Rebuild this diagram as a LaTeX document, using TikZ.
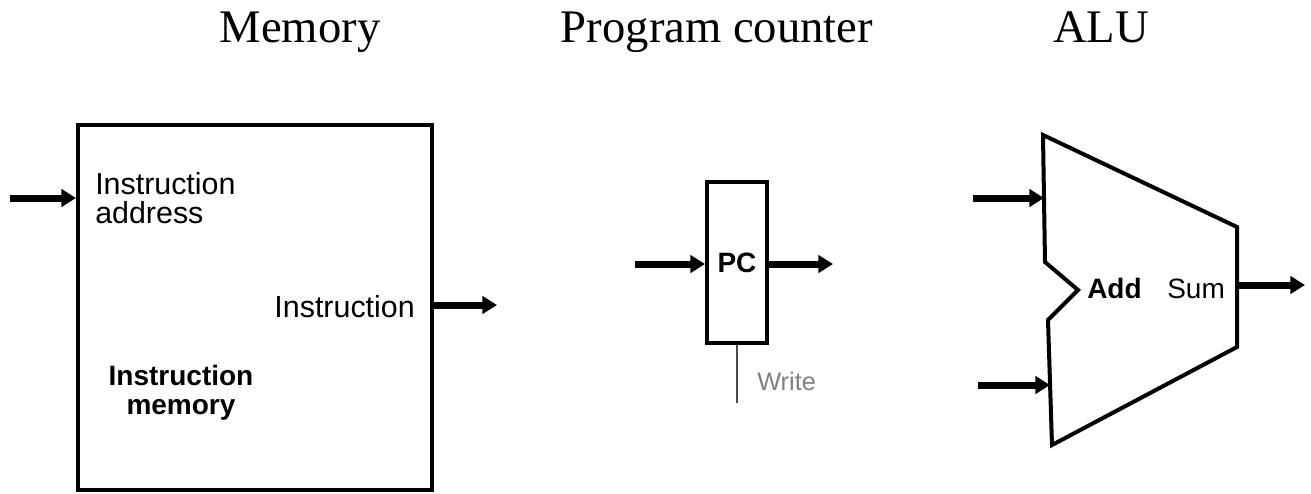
\documentclass[tikz,border=0pt]{standalone}
\usepackage{fontspec}
\setmainfont{Liberation Serif}
\setsansfont{Liberation Sans}
\usetikzlibrary{arrows.meta,positioning}
\tikzset{
  bus/.style={-{Triangle[length=11pt,width=13pt]},line width=5.25pt},
  blk/.style={draw,line width=3pt,inner sep=0pt},
  lbl/.style={font=\sffamily\fontsize{21}{21.75}\selectfont,inner sep=0pt},
  lbm/.style={font=\sffamily\fontsize{22.8}{21.75}\selectfont,inner sep=0pt},
  bl/.style={font=\sffamily\bfseries\fontsize{21}{21.75}\selectfont,inner sep=0pt},
  ttl/.style={font=\fontsize{35}{40}\selectfont,inner sep=0pt,anchor=base}
}
\begin{document}
\begin{tikzpicture}[x=0.75pt,y=-0.75pt]
\useasboundingbox (0,0) rectangle (1311,493);
% titles
\node[ttl] (tmem) at (300,42) {Memory};
\node[ttl] (tpc) at (717,42) {Program counter};
\node[ttl] (talu) at (1101,42) {ALU};
% instruction memory
\node[blk,minimum width=265.5pt,minimum height=273.75pt] (imem) at (255,307.5) {};
\node[lbm,anchor=north west,align=left] (iaddr) at (95,172) {Instruction\\address};
\node[lbm,anchor=base east] (iout) at (415,317) {Instruction};
\node[bl,anchor=north,align=center] (iname) at (181,365) {Instruction\\memory};
\coordinate (memin) at (10,198);
\coordinate (memout) at (497,305);
\draw[bus] (memin) -- (memin -| imem.west);
\draw[bus] (memout -| imem.east) -- (memout);
% program counter
\node[blk,font=\sffamily\bfseries\fontsize{21}{21.75}\selectfont,minimum width=45pt,minimum height=120.75pt] (pc) at (737,262.5) {PC};
\coordinate (pcin) at (635,264);
\coordinate (pcout) at (833,264);
\coordinate (wr) at (738,403);
\draw[bus] (pcin) -- (pcin -| pc.west);
\draw[bus] (pcout -| pc.east) -- (pcout);
\draw[gray!60!black,line width=1.5pt] (pc.south) -- (pc.south |- wr);
\node[lbl,font=\sffamily\fontsize{19}{20}\selectfont,text=gray,anchor=base west] (wrlbl) at (757,390) {Write};
% alu
\coordinate (a1) at (1043,135);
\coordinate (a2) at (1237,227);
\coordinate (a3) at (1237,347);
\coordinate (a4) at (1052,445);
\coordinate (a5) at (1048,320);
\coordinate (a6) at (1078,290);
\coordinate (a7) at (1045,262);
\draw[line width=3pt,line join=miter] (a1) -- (a2) -- (a3) -- (a4) -- (a5) -- (a6) -- (a7) -- cycle;
\node[bl,anchor=base west] (add) at (1087,298) {Add};
\node[lbl,anchor=base west] (sum) at (1167,298) {Sum};
\coordinate (aluA) at (1044,198);
\coordinate (aluB) at (1050,385);
\coordinate (aluS) at (1237,285);
\coordinate (ain1) at (973,198);
\coordinate (ain2) at (978,385);
\coordinate (aout) at (1305,285);
\draw[bus] (ain1) -- (aluA);
\draw[bus] (ain2) -- (aluB);
\draw[bus] (aluS) -- (aout);
\end{tikzpicture}
\end{document}
